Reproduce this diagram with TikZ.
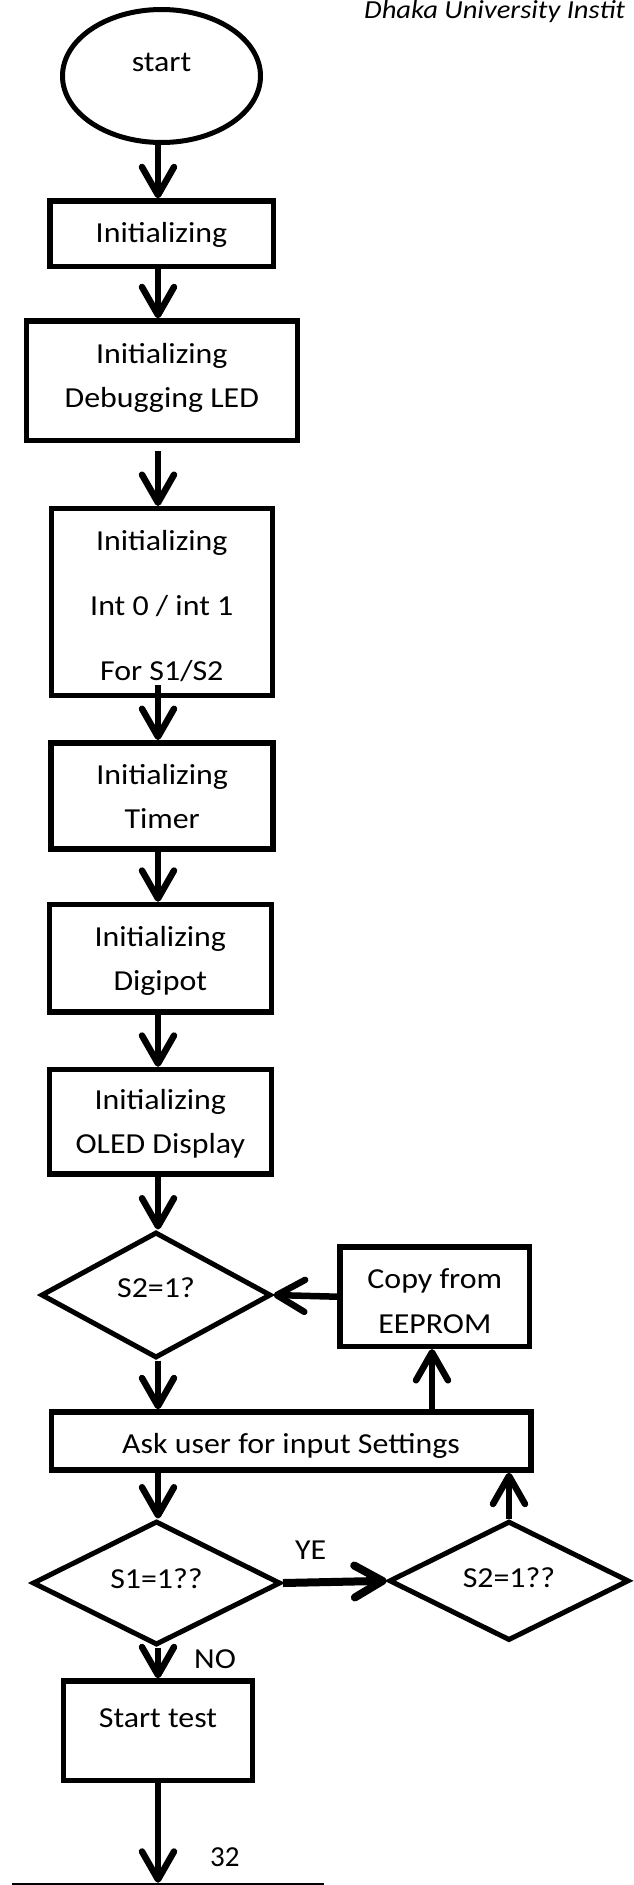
\documentclass[tikz,border=0pt]{standalone}
\usepackage{fontspec}
\setmainfont{Carlito}[FakeStretch=1.1]
\newfontfamily\plainfont{Carlito}
\usetikzlibrary{shapes.geometric,arrows.meta}
% invisible struts: first-line height and last-line depth of a node text
\newcommand\hgt[1]{\rule{0pt}{#1}}
\newcommand\dpt[1]{\rule[-#1]{0pt}{#1}}
\begin{document}
\begin{tikzpicture}[x=1pt,y=-1pt,
  txt/.style={font=\fontsize{29}{44}\selectfont},
  box/.style={txt, draw, rectangle, line width=5.5pt, inner sep=0pt, align=center},
  decision/.style={txt, draw, diamond, line width=5pt, inner sep=0pt},
  flow/.style={line width=6.5pt, -{Straight Barb[length=28pt,width=32pt,round]}},
  tag/.style={txt, inner sep=0pt, anchor=base west}]
\useasboundingbox (0,0) rectangle (634,1885);
\coordinate (col) at (158,0);
\coordinate (upx) at (432,0);

% running head
\node[tag, font=\fontsize{26}{30}\selectfont\itshape] (header) at (364,18.3) {Dhaka University Instit};

% main column
\node[txt, draw, ellipse, line width=5pt, minimum width=198pt, minimum height=133pt, inner sep=0pt]
  (start) at (161.5,76) {\hgt{20pt}\dpt{30pt}start};
\node[box, minimum width=223.5pt, minimum height=65.5pt] (init) at (161.5,233.8)
  {\hgt{23pt}\dpt{6pt}Initializing};
\node[box, minimum width=271pt, minimum height=119.5pt] (debug) at (161.8,380.8)
  {\hgt{20pt}Initializing\\Debugging LED\dpt{11pt}};
\node[box, minimum width=221pt, minimum height=186.8pt, font=\fontsize{29}{64.7}\selectfont] (ints) at (161.8,602.1)
  {\hgt{32.4pt}Initializing\\Int 0 / int 1\\For S1/S2\dpt{6pt}};
\node[box, minimum width=222pt, minimum height=106.2pt] (timer) at (162.2,795.9)
  {\hgt{27.6pt}Initializing\\Timer\dpt{6pt}};
\node[box, minimum width=222pt, minimum height=107.5pt] (digipot) at (160.3,958.3)
  {\hgt{25.4pt}Initializing\\Digipot\dpt{6pt}};
\node[box, minimum width=222pt, minimum height=104.5pt] (oled) at (160.3,1121.8)
  {\hgt{24.4pt}Initializing\\OLED Display\dpt{6pt}};
\node[decision, minimum width=230pt, minimum height=126pt] (s2) at (156,1295)
  {\hgt{20pt}\dpt{15pt}S2=1?};
\node[box, minimum width=189.5pt, minimum height=99.2pt, font=\fontsize{29}{45}\selectfont] (copy) at (434.8,1296.7)
  {\hgt{34pt}Copy from\\EEPROM\dpt{6pt}};
\node[box, minimum width=479.5pt, minimum height=57.9pt] (ask) at (291,1441)
  {\hgt{31pt}\dpt{6.4pt}Ask user for input Settings};
\node[decision, minimum width=248pt, minimum height=124pt] (s1) at (156.5,1583)
  {\hgt{20pt}\dpt{9.4pt}S1=1??};
\node[decision, minimum width=240pt, minimum height=119pt] (s1yes) at (509,1580.8)
  {\hgt{20pt}\dpt{7pt}S2=1??};
\node[box, minimum width=189.4pt, minimum height=99.5pt] (test) at (158,1730.8)
  {\hgt{20pt}\dpt{27.6pt}Start test};
\node[box, minimum width=306pt, minimum height=60pt, anchor=north] (next) at (167.75,1882.75) {};

% connectors
\draw[flow] (start.south -| col) -- (init.north -| col);
\draw[flow] (init.south -| col) -- (debug.north -| col);
\draw[flow, shorten <=8pt] (debug.south -| col) -- (ints.north -| col);
\draw[flow, shorten <=-13pt] (ints.south -| col) -- (timer.north -| col);
\draw[flow] (timer.south -| col) -- (digipot.north -| col);
\draw[flow] (digipot.south -| col) -- (oled.north -| col);
\draw[flow] (oled.south -| col) -- (s2.north -| col);
\draw[flow] (s2.south -| col) -- (ask.north -| col);
\draw[flow] (ask.north -| upx) -- (copy.south -| upx);
\draw[flow] (copy.west) -- (s2.east);
\draw[flow] (ask.south -| col) -- (s1.north -| col);
\draw[flow, line width=8pt] (s1.east) -- (s1yes.west);
\draw[flow] (s1yes.north) -- (ask.south -| s1yes.north);
\draw[flow] (s1.south -| col) -- (test.north -| col);
\draw[flow] (test.south -| col) -- (next.north -| col);

% branch labels and page number
\node[tag] (yes) at (295,1559.3) {YE};
\node[tag] (no) at (194,1668.3) {NO};
\node[tag, font=\plainfont\fontsize{29}{44}\selectfont] (pagenum) at (210,1866.7) {32};
\end{tikzpicture}
\end{document}
